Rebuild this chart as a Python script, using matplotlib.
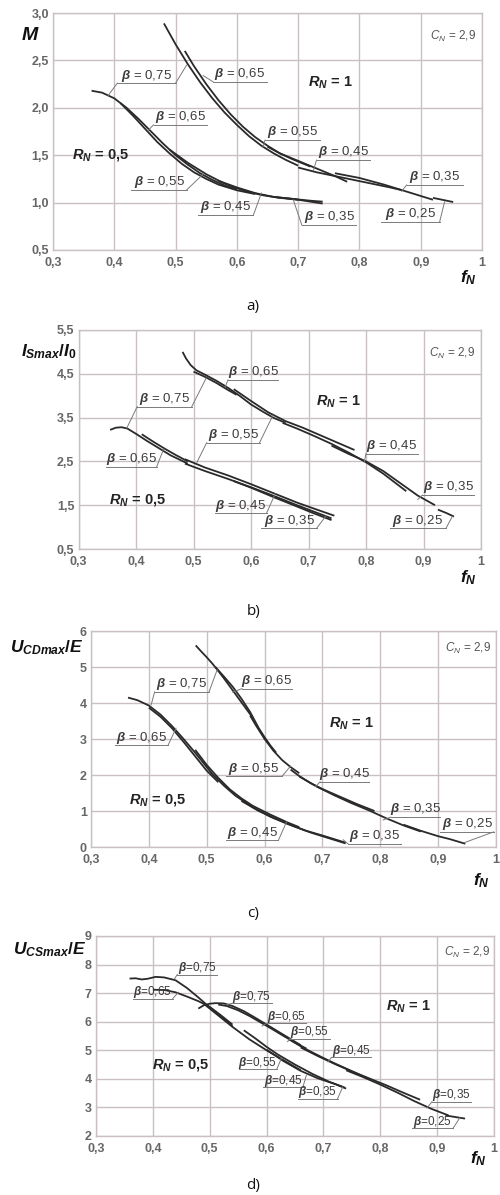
import matplotlib
matplotlib.use("Agg")
from matplotlib import pyplot as plt

"""
Normalised characteristics of the converter versus f_N
for R_N = 1 and R_N = 0,5, C_N = 2,9, with beta as parameter.
"""

plt.rcParams['font.family'] = ['Liberation Sans', 'DejaVu Sans']
plt.rcParams['mathtext.fontset'] = 'custom'
plt.rcParams['mathtext.it'] = 'Liberation Sans:italic:bold'
plt.rcParams['mathtext.rm'] = 'Liberation Sans:bold'
plt.rcParams['mathtext.bf'] = 'Liberation Sans:bold'
plt.rcParams['mathtext.sf'] = 'Liberation Sans:italic'

F_TICKS = [0.3, 0.4, 0.5, 0.6, 0.7, 0.8, 0.9, 1.0]
F_TICK_LABELS = ['0,3', '0,4', '0,5', '0,6', '0,7', '0,8', '0,9', '1']

# a) M
M_TICKS = [0.5, 1.0, 1.5, 2.0, 2.5, 3.0]
M_TICK_LABELS = ['0,5', '1,0', '1,5', '2,0', '2,5', '3,0']
M_R1 = {
    0.75: ([0.481, 0.50, 0.52, 0.54, 0.56, 0.58, 0.60, 0.62, 0.64, 0.66, 0.68, 0.70],
           [2.89, 2.67, 2.46, 2.27, 2.10, 1.95, 1.82, 1.70, 1.60, 1.52, 1.45, 1.39]),
    0.65: ([0.515, 0.53, 0.55, 0.57, 0.59, 0.61, 0.63, 0.65, 0.67, 0.69, 0.72],
           [2.60, 2.44, 2.25, 2.08, 1.93, 1.80, 1.69, 1.60, 1.52, 1.46, 1.38]),
    0.55: ([0.65, 0.67, 0.70, 0.73, 0.76, 0.78],
           [1.59, 1.52, 1.44, 1.36, 1.28, 1.22]),
    0.45: ([0.70, 0.73, 0.76, 0.79, 0.82, 0.85, 0.87],
           [1.37, 1.32, 1.28, 1.24, 1.20, 1.16, 1.13]),
    0.35: ([0.76, 0.80, 0.84, 0.88, 0.92],
           [1.31, 1.26, 1.19, 1.11, 1.03]),
    0.25: ([0.92, 0.935, 0.953],
           [1.05, 1.03, 1.006]),
}
M_R05 = {
    0.75: ([0.363, 0.38, 0.40, 0.42, 0.44, 0.46, 0.48, 0.50, 0.52, 0.54, 0.56, 0.58, 0.60],
           [2.18, 2.16, 2.10, 2.00, 1.88, 1.75, 1.62, 1.50, 1.40, 1.31, 1.24, 1.18, 1.14]),
    0.65: ([0.41, 0.43, 0.45, 0.47, 0.49, 0.51, 0.53, 0.55, 0.57, 0.60, 0.63],
           [2.05, 1.92, 1.78, 1.64, 1.52, 1.41, 1.32, 1.25, 1.19, 1.13, 1.09]),
    0.55: ([0.49, 0.52, 0.55, 0.58, 0.61, 0.64, 0.67, 0.70],
           [1.56, 1.42, 1.30, 1.20, 1.13, 1.08, 1.05, 1.03]),
    0.45: ([0.57, 0.60, 0.63, 0.66, 0.69, 0.72, 0.74],
           [1.23, 1.16, 1.10, 1.06, 1.04, 1.02, 1.01]),
    0.35: ([0.66, 0.69, 0.72, 0.74],
           [1.06, 1.04, 1.01, 0.99]),
}

# b) I_Smax / I_0
I_TICKS = [0.5, 1.5, 2.5, 3.5, 4.5, 5.5]
I_TICK_LABELS = ['0,5', '1,5', '2,5', '3,5', '4,5', '5,5']
I_R1 = {
    0.75: ([0.481, 0.487, 0.495, 0.505, 0.52, 0.54, 0.56, 0.58, 0.60, 0.62, 0.64, 0.66],
           [5.00, 4.85, 4.70, 4.58, 4.48, 4.34, 4.18, 4.00, 3.80, 3.64, 3.49, 3.38]),
    0.65: ([0.50, 0.52, 0.54, 0.56, 0.575],
           [4.55, 4.43, 4.29, 4.13, 4.02]),
    0.55: ([0.57, 0.60, 0.63, 0.66, 0.69, 0.72, 0.75, 0.78],
           [4.15, 3.88, 3.62, 3.42, 3.27, 3.10, 2.93, 2.76]),
    0.45: ([0.655, 0.68, 0.71, 0.74, 0.77, 0.80, 0.83, 0.85, 0.87],
           [3.38, 3.25, 3.08, 2.90, 2.70, 2.48, 2.22, 2.02, 1.82]),
    0.35: ([0.74, 0.77, 0.80, 0.83, 0.86, 0.89, 0.92],
           [2.86, 2.67, 2.50, 2.28, 2.00, 1.72, 1.50]),
    0.25: ([0.925, 0.94, 0.953],
           [1.40, 1.32, 1.24]),
}
I_R05 = {
    0.75: ([0.355, 0.365, 0.375, 0.385, 0.40, 0.42, 0.44, 0.46, 0.49],
           [3.22, 3.27, 3.28, 3.25, 3.13, 2.96, 2.80, 2.64, 2.45]),
    0.65: ([0.41, 0.43, 0.45, 0.47, 0.49],
           [3.12, 2.95, 2.79, 2.64, 2.50]),
    0.55: ([0.485, 0.52, 0.56, 0.60, 0.64, 0.68, 0.71, 0.745],
           [2.55, 2.36, 2.18, 1.98, 1.77, 1.56, 1.42, 1.26]),
    0.45: ([0.485, 0.52, 0.56, 0.60, 0.64, 0.68, 0.71, 0.74],
           [2.45, 2.28, 2.10, 1.91, 1.71, 1.50, 1.35, 1.20]),
    0.35: ([0.57, 0.60, 0.64, 0.68, 0.71, 0.74],
           [2.05, 1.90, 1.68, 1.47, 1.31, 1.16]),
}

# c) U_CDmax / E
UCD_TICKS = [0, 1, 2, 3, 4, 5, 6]
UCD_TICK_LABELS = ['0', '1', '2', '3', '4', '5', '6']
UCD_R1 = {
    0.75: ([0.481, 0.49, 0.50, 0.51, 0.52, 0.53, 0.54, 0.55, 0.56, 0.57, 0.58],
           [5.60, 5.44, 5.27, 5.09, 4.89, 4.68, 4.46, 4.24, 4.02, 3.80, 3.58]),
    0.65: ([0.515, 0.53, 0.545, 0.56, 0.575, 0.59, 0.60, 0.61, 0.62],
           [5.00, 4.73, 4.45, 4.12, 3.75, 3.30, 3.05, 2.82, 2.62]),
    0.55: ([0.575, 0.585, 0.60, 0.615, 0.63, 0.645, 0.66],
           [3.65, 3.38, 3.00, 2.68, 2.42, 2.22, 2.05]),
    0.45: ([0.645, 0.66, 0.68, 0.70, 0.72, 0.74, 0.76, 0.79],
           [2.15, 1.97, 1.77, 1.61, 1.47, 1.33, 1.19, 1.00]),
    0.35: ([0.66, 0.69, 0.72, 0.75, 0.78, 0.81, 0.84, 0.87],
           [1.96, 1.68, 1.44, 1.22, 1.02, 0.80, 0.60, 0.43]),
    0.25: ([0.84, 0.87, 0.90, 0.92, 0.947],
           [0.62, 0.45, 0.30, 0.22, 0.09]),
}
UCD_R05 = {
    0.75: ([0.364, 0.38, 0.40, 0.42, 0.44, 0.46, 0.48, 0.49],
           [4.15, 4.08, 3.93, 3.68, 3.36, 3.00, 2.62, 2.42]),
    0.65: ([0.40, 0.42, 0.44, 0.46, 0.48, 0.50, 0.52],
           [3.87, 3.62, 3.30, 2.92, 2.52, 2.12, 1.80]),
    0.55: ([0.48, 0.50, 0.52, 0.54, 0.56, 0.58, 0.61, 0.64, 0.66],
           [2.70, 2.28, 1.92, 1.60, 1.35, 1.14, 0.90, 0.68, 0.55]),
    0.45: ([0.49, 0.51, 0.53, 0.55, 0.58, 0.61, 0.64, 0.67, 0.70, 0.74],
           [2.42, 2.02, 1.70, 1.42, 1.10, 0.84, 0.64, 0.46, 0.32, 0.12]),
    0.35: ([0.56, 0.59, 0.62, 0.65, 0.68, 0.71, 0.74],
           [1.28, 1.00, 0.78, 0.58, 0.40, 0.25, 0.10]),
}

# d) U_CSmax / E
UCS_TICKS = [2, 3, 4, 5, 6, 7, 8, 9]
UCS_TICK_LABELS = ['2', '3', '4', '5', '6', '7', '8', '9']
UCS_R1 = {
    0.75: ([0.48, 0.49, 0.50, 0.51, 0.525, 0.54, 0.56, 0.58, 0.60, 0.62, 0.64, 0.66],
           [6.46, 6.58, 6.63, 6.65, 6.64, 6.55, 6.37, 6.14, 5.90, 5.66, 5.42, 5.18]),
    0.65: ([0.515, 0.53, 0.55, 0.57, 0.59, 0.61, 0.63, 0.65, 0.67],
           [6.60, 6.55, 6.40, 6.20, 5.97, 5.74, 5.50, 5.27, 5.06]),
    0.55: ([0.64, 0.66, 0.68, 0.70, 0.72, 0.74, 0.76, 0.78],
           [5.38, 5.14, 4.93, 4.73, 4.54, 4.36, 4.18, 4.00]),
    0.45: ([0.66, 0.69, 0.72, 0.75, 0.78, 0.81, 0.84, 0.87],
           [5.10, 4.80, 4.52, 4.26, 4.02, 3.78, 3.52, 3.27]),
    0.35: ([0.74, 0.77, 0.80, 0.83, 0.86, 0.89, 0.92],
           [4.30, 4.06, 3.80, 3.52, 3.22, 2.95, 2.72]),
    0.25: ([0.915, 0.93, 0.949],
           [2.72, 2.67, 2.61]),
}
UCS_R05 = {
    0.75: ([0.359, 0.37, 0.38, 0.39, 0.405, 0.42, 0.44, 0.46, 0.48, 0.50, 0.52, 0.54],
           [7.51, 7.52, 7.48, 7.50, 7.57, 7.55, 7.45, 7.18, 6.85, 6.50, 6.17, 5.85]),
    0.65: ([0.40, 0.42, 0.44, 0.46, 0.48, 0.50, 0.52, 0.54],
           [7.12, 7.11, 7.03, 6.88, 6.72, 6.52, 6.22, 5.90]),
    0.55: ([0.49, 0.51, 0.54, 0.57, 0.60, 0.63, 0.66],
           [6.62, 6.30, 5.82, 5.38, 5.00, 4.65, 4.30]),
    0.45: ([0.56, 0.58, 0.60, 0.62, 0.65, 0.68, 0.71, 0.737],
           [5.70, 5.42, 5.12, 4.85, 4.50, 4.18, 3.90, 3.70]),
    0.35: ([0.60, 0.63, 0.66, 0.69, 0.72, 0.74],
           [5.02, 4.62, 4.28, 4.02, 3.82, 3.66]),
}

CURVE = '#2a2a2a'
GRID = '#c9c1c1'
LEAD = '#7a7a7a'
TEXT = '#3c3c3c'
TICK = '#666666'

# callouts: text, underline x from/to, underline y, leader ends
NOTES_A = [
    (r'$\beta$ = 0,75', 0.405, 0.500, 2.26, [('l', 0.39, 2.13), ('r', 0.518, 2.45)]),
    (r'$\beta$ = 0,65', 0.561, 0.649, 2.275, [('l', 0.545, 2.34)]),
    (r'$\beta$ = 0,65', 0.464, 0.551, 1.82, [('l', 0.455, 1.76)]),
    (r'$\beta$ = 0,55', 0.428, 0.518, 1.133, [('r', 0.545, 1.30)]),
    (r'$\beta$ = 0,45', 0.537, 0.627, 0.869, [('r', 0.640, 1.10)]),
    (r'$\beta$ = 0,35', 0.706, 0.795, 0.764, [('l', 0.692, 1.03)]),
    (r'$\beta$ = 0,55', 0.646, 0.735, 1.66, [('l', 0.643, 1.59)]),
    (r'$\beta$ = 0,45', 0.730, 0.817, 1.449, [('l', 0.725, 1.34)]),
    (r'$\beta$ = 0,35', 0.877, 0.969, 1.186, [('l', 0.869, 1.12)]),
    (r'$\beta$ = 0,25', 0.836, 0.931, 0.80, [('r', 0.939, 1.01)]),
]
NOTES_B = [
    (r'$\beta$ = 0,65', 0.560, 0.647, 4.36, [('l', 0.555, 4.2)]),
    (r'$\beta$ = 0,75', 0.402, 0.497, 3.75, [('l', 0.384, 3.26), ('r', 0.522, 4.40)]),
    (r'$\beta$ = 0,55', 0.523, 0.615, 2.93, [('l', 0.506, 2.48), ('r', 0.638, 3.55)]),
    (r'$\beta$ = 0,45', 0.800, 0.890, 2.68, [('l', 0.797, 2.49)]),
    (r'$\beta$ = 0,65', 0.347, 0.436, 2.38, [('r', 0.448, 2.78)]),
    (r'$\beta$ = 0,45', 0.537, 0.627, 1.315, [('r', 0.642, 1.76)]),
    (r'$\beta$ = 0,35', 0.618, 0.714, 0.97, [('r', 0.73, 1.25)]),
    (r'$\beta$ = 0,35', 0.898, 0.988, 1.73, [('l', 0.89, 1.63)]),
    (r'$\beta$ = 0,25', 0.841, 0.939, 0.97, [('r', 0.95, 1.24)]),
]
NOTES_C = [
    (r'$\beta$ = 0,75', 0.410, 0.504, 4.31, [('l', 0.404, 3.95), ('r', 0.518, 4.92)]),
    (r'$\beta$ = 0,65', 0.561, 0.647, 4.40, [('l', 0.545, 4.30)]),
    (r'$\beta$ = 0,65', 0.341, 0.433, 2.82, [('r', 0.447, 3.30)]),
    (r'$\beta$ = 0,55', 0.533, 0.630, 1.96, [('r', 0.645, 2.25)]),
    (r'$\beta$ = 0,45', 0.696, 0.781, 1.81, [('l', 0.688, 1.68)]),
    (r'$\beta$ = 0,45', 0.533, 0.624, 0.19, [('r', 0.638, 0.70)]),
    (r'$\beta$ = 0,35', 0.744, 0.836, 0.09, [('l', 0.736, 0.20)]),
    (r'$\beta$ = 0,35', 0.818, 0.904, 0.83, [('l', 0.805, 0.75)]),
    (r'$\beta$ = 0,25', 0.904, 0.996, 0.42, [('r', 0.945, 0.12)]),
]
NOTES_D = [
    (r'$\beta$=0,75', 0.443, 0.513, 7.65, [('l', 0.438, 7.50)]),
    (r'$\beta$=0,65', 0.365, 0.435, 6.81, [('r', 0.445, 7.03)]),
    (r'$\beta$=0,75', 0.539, 0.609, 6.64, [('l', 0.530, 6.60)]),
    (r'$\beta$=0,65', 0.600, 0.670, 5.94, [('l', 0.592, 5.85)]),
    (r'$\beta$=0,55', 0.641, 0.711, 5.41, [('l', 0.637, 5.30)]),
    (r'$\beta$=0,45', 0.714, 0.783, 4.75, [('l', 0.708, 4.59)]),
    (r'$\beta$=0,55', 0.551, 0.618, 4.34, [('r', 0.626, 4.72)]),
    (r'$\beta$=0,45', 0.594, 0.664, 3.72, [('r', 0.670, 4.13)]),
    (r'$\beta$=0,35', 0.655, 0.725, 3.31, [('r', 0.734, 3.72)]),
    (r'$\beta$=0,35', 0.891, 0.960, 3.20, [('l', 0.882, 2.98)]),
    (r'$\beta$=0,25', 0.856, 0.928, 2.27, [('r', 0.940, 2.64)]),
]

W, H = 500, 1195


def fig_xy(x, y):
    """pixel position (top-left origin) -> figure fraction"""
    return x / W, 1 - y / H


def make_axes(fig, left, top, right, bottom):
    ax = fig.add_axes([left / W, 1 - bottom / H, (right - left) / W, (bottom - top) / H])
    return ax


def draw_panel(ax, families, yticks, yticklabels, notes, r1_pos, r05_pos, c_pos,
               note_size=9.5, note_off=5.5):
    ax.set_xlim(0.3, 1.0)
    ax.set_ylim(yticks[0], yticks[-1])
    ax.set_xticks(F_TICKS)
    ax.set_xticklabels(F_TICK_LABELS)
    ax.set_yticks(yticks)
    ax.set_yticklabels(yticklabels)
    ax.tick_params(length=0, labelsize=9, labelcolor=TICK)
    ax.tick_params(axis='x', pad=5)
    ax.tick_params(axis='y', pad=3)
    for lab in ax.get_xticklabels() + ax.get_yticklabels():
        lab.set_fontweight('bold')
    ax.grid(True, color=GRID, lw=1.0)
    ax.set_axisbelow(True)
    for sp in ax.spines.values():
        sp.set_color(GRID)
        sp.set_linewidth(1.0)

    for fam in families:
        for beta, (f, v) in fam.items():
            ax.plot(f, v, color=CURVE, lw=1.3, solid_capstyle='butt')

    for text, x0, x1, y, leaders in notes:
        ax.annotate(text, xy=((x0 + x1) / 2, y), xytext=(0, note_off),
                    textcoords='offset points', ha='center', va='center',
                    fontsize=note_size, color=TEXT)
        ax.plot([x0, x1], [y, y], color=LEAD, lw=0.7)
        for side, tx, ty in leaders:
            sx = x0 if side == 'l' else x1
            ax.plot([sx, tx], [y, ty], color=LEAD, lw=0.7)

    ax.text(r1_pos[0], r1_pos[1], r'$R_N$ = 1', ha='center', va='center',
            fontsize=10.5, fontweight='bold', color='#222222')
    ax.text(r05_pos[0], r05_pos[1], r'$R_N$ = 0,5', ha='center', va='center',
            fontsize=10.5, fontweight='bold', color='#222222')
    ax.text(c_pos[0], c_pos[1], r'$\mathsf{C_N}$ = 2,9', ha='center', va='center',
            fontsize=8.5, color='#555555')


fig = plt.figure(figsize=(W / 100, H / 100), dpi=100)

ax_a = make_axes(fig, 53, 13, 482, 250)
draw_panel(ax_a, [M_R1, M_R05], M_TICKS, M_TICK_LABELS, NOTES_A,
           (0.752, 2.26), (0.378, 1.50), (0.952, 2.75))
ax_b = make_axes(fig, 78.5, 330, 481, 549)
draw_panel(ax_b, [I_R1, I_R05], I_TICKS, I_TICK_LABELS, NOTES_B,
           (0.751, 3.86), (0.402, 1.63), (0.95, 4.97))
ax_c = make_axes(fig, 91, 631, 496, 847)
draw_panel(ax_c, [UCD_R1, UCD_R05], UCD_TICKS, UCD_TICK_LABELS, NOTES_C,
           (0.75, 3.43), (0.415, 1.30), (0.951, 5.51))
ax_d = make_axes(fig, 96, 936, 494, 1136)
draw_panel(ax_d, [UCS_R1, UCS_R05], UCS_TICKS, UCS_TICK_LABELS, NOTES_D,
           (0.85, 6.52), (0.449, 4.48), (0.953, 8.44), note_size=8.5, note_off=4.5)

# axis titles
ylabels = [(21, 35, r'$M$', 14), (21, 352, r'$I_{Smax}/I_0$', 12.5),
           (10, 648, r'$U_{CDmax}/E$', 12.5), (13, 950, r'$U_{CSmax}/E$', 12.5)]
for x, y, s, size in ylabels:
    fig.text(*fig_xy(x, y), s, ha='left', va='center', fontsize=size, color='#111111')

for x, y in [(468, 278), (468, 578), (481, 881), (478, 1159)]:
    fig.text(*fig_xy(x, y), r'$f_N$', ha='center', va='center', fontsize=12.5,
             color='#111111')

for x, y, s in [(253, 306, 'a)'), (254, 612, 'b)'), (253, 913, 'c)'), (253, 1185, 'd)')]:
    fig.text(*fig_xy(x, y), s, ha='center', va='center', fontsize=11,
             family='Open Sans', color='#111111')

fig.savefig('out.png', dpi=100)
